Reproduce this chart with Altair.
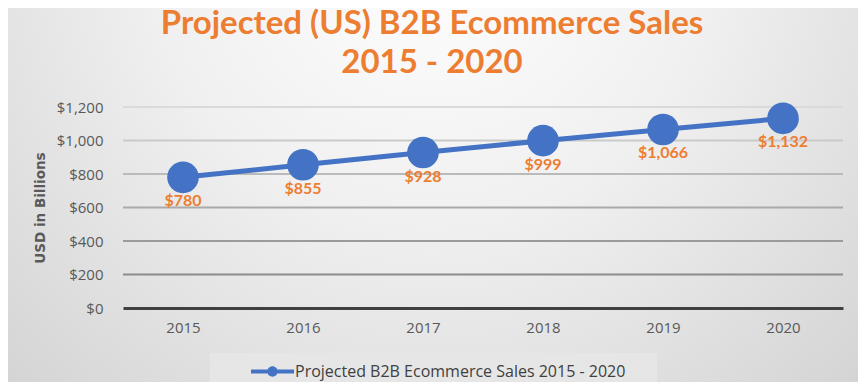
import altair as alt
import pandas as pd

years = ["2015", "2016", "2017", "2018", "2019", "2020"]
sales = [780, 855, 928, 999, 1066, 1132]
labels = ["$780", "$855", "$928", "$999", "$1,066", "$1,132"]
series_name = "Projected B2B Ecommerce Sales 2015 - 2020"
tick_values = [0, 200, 400, 600, 800, 1000, 1200]
grid_values = [200, 400, 600, 800, 1000, 1200]

df = pd.DataFrame({"year": years, "sales": sales, "label": labels,
                   "series": [series_name] * len(years)})
grid_df = pd.DataFrame({"sales": grid_values})

W, H = 720, 201
PL, PT, PR, PB = 115, 99, 15, 74
BLUE = "#4472C4"
ORANGE = "#ED7D31"
FONT = "Open Sans"
TFONT = "Lato"

bg_fill = {
    "gradient": "radial",
    "x1": 0.5, "y1": 0.2, "r1": 0,
    "x2": 0.5, "y2": 0.2, "r2": 0.95,
    "stops": [
        {"offset": 0, "color": "#ffffff"},
        {"offset": 0.35, "color": "#f0f0f0"},
        {"offset": 1, "color": "#c4c4c4"},
    ],
}

one = pd.DataFrame({"a": [0]})
background = alt.Chart(one).mark_rect(fill=bg_fill).encode(
    x=alt.value(-PL), x2=alt.value(W + PR),
    y=alt.value(-PT), y2=alt.value(H + PB),
)
legend_box = alt.Chart(one).mark_rect(fill="#e6e6e6").encode(
    x=alt.value(87), x2=alt.value(534),
    y=alt.value(246), y2=alt.value(282),
)

x_enc = alt.X("year:O", scale=alt.Scale(type="point", padding=0.5),
              axis=alt.Axis(title=None, labelAngle=0, ticks=False, grid=False,
                            domainColor="#404040", domainWidth=3,
                            labelPadding=12, labelFontSize=15,
                            labelColor="#595959", labelFont=FONT, zindex=1))
y_axis = alt.Axis(values=tick_values, format="$,.0f", grid=False,
                  ticks=False, domain=False, labelPadding=20,
                  labelFontSize=15, labelColor="#595959",
                  labelFont=FONT, title="USD in Billions",
                  titleFont="DejaVu Sans", titleFontSize=13.5,
                  titleFontWeight="bold", titleColor="#595959",
                  titlePadding=9, zindex=1)
y_scale = alt.Scale(domain=[0, 1200], nice=False)
y_enc = alt.Y("sales:Q", scale=y_scale, axis=y_axis)

grid = alt.Chart(grid_df).mark_rule(strokeWidth=2).encode(
    y=y_enc,
    stroke=alt.Stroke("sales:Q", scale=alt.Scale(domain=[200, 1200],
                                                 range=["#8c8c8c", "#dadada"]),
                      legend=None),
)

line = alt.Chart(df).mark_line(color=BLUE, strokeWidth=5).encode(x=x_enc, y=y_enc)

legend_path = ("M-1,-0.09H1V0.09H-1Z "
               "M-0.24,0A0.24,0.24 0 1,1 0.24,0A0.24,0.24 0 1,1 -0.24,0Z")

points = alt.Chart(df).mark_point(filled=True, size=1000, opacity=1).encode(
    x=x_enc, y=y_enc,
    color=alt.Color("series:N", scale=alt.Scale(range=[BLUE]),
                    legend=alt.Legend(title=None, orient="none",
                                      legendX=128, legendY=243,
                                      symbolType=legend_path, symbolSize=1849,
                                      symbolStrokeWidth=0,
                                      labelFontSize=16, labelColor="#404040",
                                      labelFont=FONT, labelLimit=500,
                                      labelOffset=1, zindex=1)),
)

text = alt.Chart(df).mark_text(dy=24, fontSize=16, fontWeight="bold",
                               color=ORANGE, font=TFONT).encode(
    x=x_enc, y=y_enc, text="label:N")

chart = alt.layer(background, legend_box, grid, line, points, text).properties(
    width=W, height=H,
    autosize=alt.AutoSizeParams(type="none"),
    padding={"left": PL, "top": PT, "right": PR, "bottom": PB},
    title=alt.TitleParams(
        text=["Projected (US) B2B Ecommerce Sales", "2015 - 2020"],
        fontSize=33, fontWeight="bold", color=ORANGE, font=TFONT,
        lineHeight=39, anchor="middle", frame="group", offset=29, dx=-51,
        dy=101, zindex=1,
    ),
).resolve_scale(stroke="independent").configure_view(stroke=None)

chart.save("out.html", embed_options={"renderer": "svg", "actions": False})
